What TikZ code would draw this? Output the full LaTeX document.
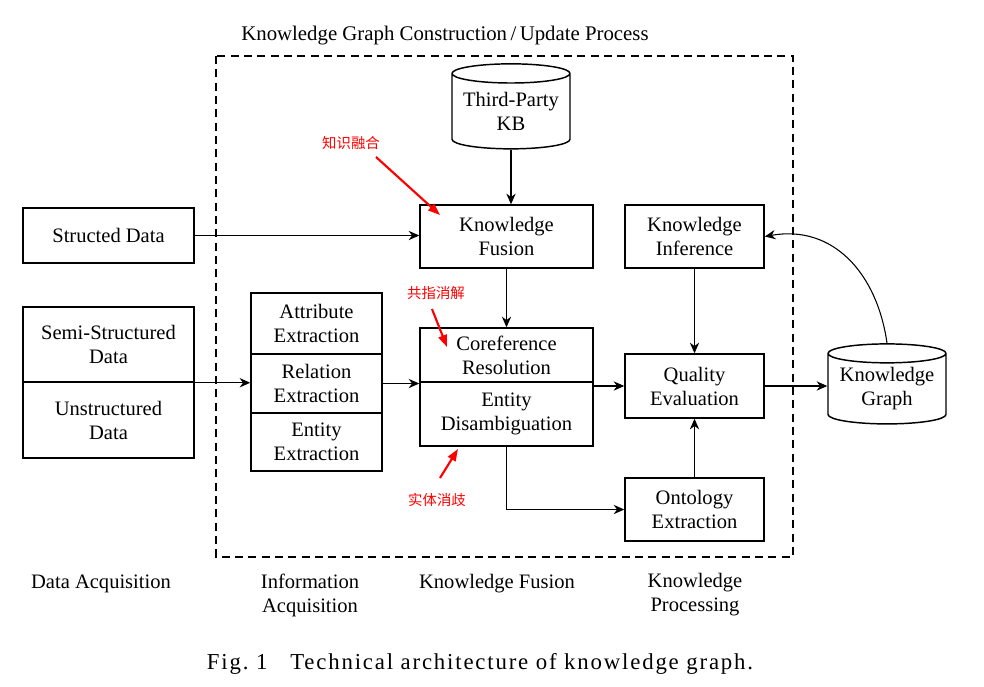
\documentclass[tikz,border=0pt]{standalone}
\usepackage{fontspec}
\setmainfont{Liberation Serif}
\newfontfamily\cjk{Noto Sans CJK SC}
\usetikzlibrary{shapes.geometric,arrows.meta}
\begin{document}
\begin{tikzpicture}[x=0.75pt,y=-0.75pt,
  every node/.style={font=\fontsize{15.4}{18}\selectfont, align=center, inner sep=0pt},
  box/.style={draw, line width=1.1pt},
  db/.style={draw, line width=1.1pt, cylinder, shape border rotate=90, aspect=0.2},
  conn/.style={line width=0.8pt, -{Stealth[length=8pt,width=7pt]}},
  note/.style={font=\cjk\fontsize{10.8}{12}\selectfont, text=red},
  notearrow/.style={red, line width=1.6pt, -{Triangle[length=9pt,width=6.5pt]}},
  lbl/.style={font=\fontsize{15.4}{18}\selectfont}
]
\useasboundingbox (0,0) rectangle (984,686);
% frame
\draw[dashed, line width=0.8pt, dash pattern=on 6pt off 4pt] (216,56) rectangle (793,557);
\node[lbl, font=\fontsize{15.6}{18}\selectfont] (title) at (445,36) {Knowledge Graph Construction\,/\,Update Process};
% boxes
\node[box, minimum width=171*0.75pt, minimum height=55*0.75pt] (sd) at (108.5,235.5) {Structed Data};
\node[box, minimum width=171*0.75pt, minimum height=75*0.75pt] (semi) at (108.5,344.5) {Semi-Structured\\Data};
\node[box, minimum width=171*0.75pt, minimum height=76*0.75pt] (unstr) at (108.5,420) {Unstructured\\Data};
\node[box, minimum width=131*0.75pt, minimum height=61*0.75pt] (attr) at (316.5,323.5) {Attribute\\Extraction};
\node[box, minimum width=131*0.75pt, minimum height=59*0.75pt] (rel) at (316.5,383.5) {Relation\\Extraction};
\node[box, minimum width=131*0.75pt, minimum height=58*0.75pt] (ent) at (316.5,442) {Entity\\Extraction};
\node[db, minimum width=118*0.75pt, minimum height=85*0.75pt] (tpkb) at (511,111.5) {Third-Party\\KB};
\node[box, minimum width=173*0.75pt, minimum height=63*0.75pt] (kf) at (506.5,236.5) {Knowledge\\Fusion};
\node[box, minimum width=173*0.75pt, minimum height=54*0.75pt] (coref) at (506.5,355) {Coreference\\Resolution};
\node[box, minimum width=173*0.75pt, minimum height=64*0.75pt] (dis) at (506.5,414) {Entity\\Disambiguation};
\node[box, minimum width=139*0.75pt, minimum height=63*0.75pt] (ki) at (694.5,236.5) {Knowledge\\Inference};
\node[box, minimum width=139*0.75pt, minimum height=64*0.75pt] (qe) at (694.5,386) {Quality\\Evaluation};
\node[box, minimum width=139*0.75pt, minimum height=63*0.75pt] (oe) at (694.5,509.5) {Ontology\\Extraction};
\node[db, minimum width=118*0.75pt, minimum height=80*0.75pt] (kg) at (887,389) {Knowledge\\Graph};
% connectors
\draw[conn] (tpkb.south) -- (tpkb.south |- kf.north);
\draw[conn] (kf.south) -- (kf.south |- coref.north);
\draw[conn] (sd.east) -- (sd.east -| kf.west);
\draw[conn] (semi.south east) -- (semi.south east -| rel.west);
\draw[conn] (rel.east) -- (rel.east -| coref.west);
\draw[conn] (qe.west -| dis.east) -- (qe.west);
\draw[conn] (ki.south) -- (qe.north);
\draw[conn] (oe.north) -- (qe.south);
\draw[conn] (dis.south) |- (oe.west);
\draw[conn] (qe.east) -- (qe.east -| kg.west);
\draw[conn] (kg.north) to[out=98,in=10,looseness=1.1] (ki.east);
% annotations
\node[note] (n1) at (351,143) {知识融合};
\node[note] (n2) at (436,293) {共指消解};
\node[note] (n3) at (437,500) {实体消歧};
\coordinate (n1s) at (376,157); \coordinate (n1e) at (440,215);
\coordinate (n2s) at (432,309); \coordinate (n2e) at (447,347);
\coordinate (n3s) at (440,478); \coordinate (n3e) at (458,449);
\draw[notearrow] (n1s) -- (n1e);
\draw[notearrow] (n2s) -- (n2e);
\draw[notearrow] (n3s) -- (n3e);
% column labels
\node[lbl] (l1) at (101,584) {Data Acquisition};
\node[lbl] (l2) at (310,595) {Information\\Acquisition};
\node[lbl] (l3) at (497,584) {Knowledge Fusion};
\node[lbl] (l4) at (695,595) {Knowledge\\Processing};
\node[font=\fontsize{17.1}{20}\selectfont\addfontfeatures{LetterSpace=8}] (cap) at (480,664) {Fig.\ 1\quad Technical architecture of knowledge graph.};
\end{tikzpicture}
\end{document}
